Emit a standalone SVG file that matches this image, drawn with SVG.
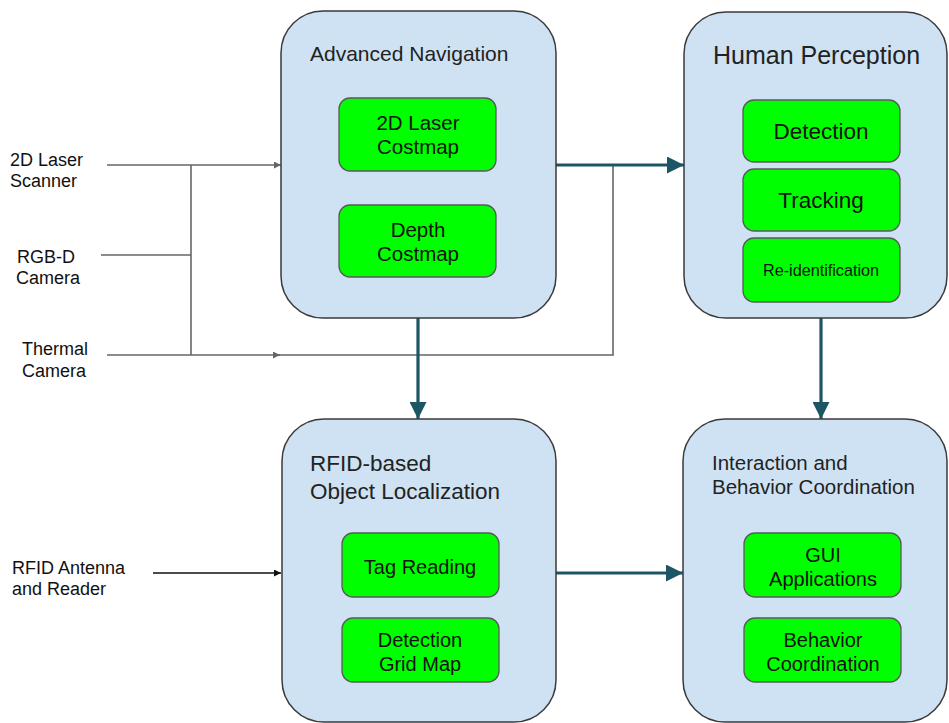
<svg xmlns="http://www.w3.org/2000/svg" width="949" height="723" viewBox="0 0 949 723">
<defs>
<style>
text{font-family:"Liberation Sans",Arial,sans-serif;}
.outer{fill:#cfe2f3;stroke:#3a3a3a;stroke-width:1.5;}
.inner{fill:#00ff00;stroke:#5a5a5a;stroke-width:1.3;}
.title{fill:#222;}
.it{fill:#111;text-anchor:middle;}
.lbl{fill:#111;font-size:18px;}
.gray{stroke:#666;stroke-width:1.6;fill:none;}
.blk{stroke:#111;stroke-width:1.6;fill:none;}
.teal{stroke:#1c5564;stroke-width:3.2;fill:none;}
</style>
<marker id="ah-gray" viewBox="0 0 10 10" refX="10" refY="5" markerWidth="9" markerHeight="7" markerUnits="userSpaceOnUse" orient="auto"><path d="M0,0 L10,5 L0,10 Z" fill="#666"/></marker>
<marker id="ah-blk" viewBox="0 0 10 10" refX="10" refY="5" markerWidth="9" markerHeight="7" markerUnits="userSpaceOnUse" orient="auto"><path d="M0,0 L10,5 L0,10 Z" fill="#111"/></marker>
<marker id="ah-teal" viewBox="0 0 10 10" refX="10" refY="5" markerWidth="22" markerHeight="17" markerUnits="userSpaceOnUse" orient="auto"><path d="M0,0 L10,5 L0,10 Z" fill="#1c5564"/></marker>
</defs>
<rect width="949" height="723" fill="#ffffff"/>

<g id="connectors">
<line class="gray" x1="107" y1="165" x2="281" y2="165" marker-end="url(#ah-gray)"/>
<line class="gray" x1="101" y1="255" x2="191" y2="255"/>
<line class="gray" x1="191" y1="165" x2="191" y2="355"/>
<line class="gray" x1="107" y1="355" x2="280" y2="355" marker-end="url(#ah-gray)"/>
<polyline class="gray" points="278,355 613,355 613,165"/>
<line class="blk" x1="153" y1="573" x2="281" y2="573" marker-end="url(#ah-blk)"/>
<line class="teal" x1="556" y1="165" x2="684" y2="165" marker-end="url(#ah-teal)"/>
<line class="teal" x1="418" y1="318" x2="418" y2="419" marker-end="url(#ah-teal)"/>
<line class="teal" x1="821" y1="318" x2="821" y2="419" marker-end="url(#ah-teal)"/>
<line class="teal" x1="556" y1="573" x2="683" y2="573" marker-end="url(#ah-teal)"/>
</g>

<g id="input-laser"><text class="lbl" x="10" y="166">2D Laser</text><text class="lbl" x="10" y="187">Scanner</text></g>
<g id="input-rgbd"><text class="lbl" x="17" y="263">RGB-D</text><text class="lbl" x="16" y="284">Camera</text></g>
<g id="input-thermal"><text class="lbl" x="22" y="355">Thermal</text><text class="lbl" x="22" y="377">Camera</text></g>
<g id="input-rfid"><text class="lbl" x="12" y="574">RFID Antenna</text><text class="lbl" x="12" y="595">and Reader</text></g>

<g id="advanced-navigation">
<rect class="outer" x="281" y="11" width="275" height="307" rx="42" ry="42"/>
<text class="title" x="310" y="61" style="font-size:21px">Advanced Navigation</text>
<g id="laser-costmap"><rect class="inner" x="339" y="98" width="157" height="73" rx="11"/>
<text class="it" x="418" y="130" style="font-size:20.5px">2D Laser</text><text class="it" x="418" y="154" style="font-size:20.5px">Costmap</text></g>
<g id="depth-costmap"><rect class="inner" x="339" y="205" width="157" height="72" rx="11"/>
<text class="it" x="418" y="237" style="font-size:20.5px">Depth</text><text class="it" x="418" y="261" style="font-size:20.5px">Costmap</text></g>
</g>

<g id="human-perception">
<rect class="outer" x="684" y="12" width="263" height="306" rx="42" ry="42"/>
<text class="title" x="713" y="64" style="font-size:25px">Human Perception</text>
<g id="detection"><rect class="inner" x="743" y="100" width="157" height="62" rx="11"/>
<text class="it" x="821" y="139" style="font-size:22.5px">Detection</text></g>
<g id="tracking"><rect class="inner" x="743" y="169" width="157" height="62" rx="11"/>
<text class="it" x="821" y="208" style="font-size:22.5px">Tracking</text></g>
<g id="reidentification"><rect class="inner" x="743" y="238" width="157" height="64" rx="11"/>
<text class="it" x="821" y="276" style="font-size:16px" textLength="116" lengthAdjust="spacingAndGlyphs">Re-identification</text></g>
</g>

<g id="rfid-localization">
<rect class="outer" x="282" y="419" width="274" height="303" rx="42" ry="42"/>
<text class="title" x="310" y="471" style="font-size:22.5px">RFID-based</text>
<text class="title" x="310" y="499" style="font-size:22.5px">Object Localization</text>
<g id="tag-reading"><rect class="inner" x="342" y="533" width="157" height="64" rx="11"/>
<text class="it" x="420" y="574" style="font-size:20px">Tag Reading</text></g>
<g id="detection-grid-map"><rect class="inner" x="342" y="618" width="157" height="64" rx="11"/>
<text class="it" x="420" y="647" style="font-size:20px">Detection</text><text class="it" x="420" y="671" style="font-size:20px">Grid Map</text></g>
</g>

<g id="interaction-behavior">
<rect class="outer" x="683" y="419" width="264" height="303" rx="42" ry="42"/>
<text class="title" x="712" y="470" style="font-size:20.5px">Interaction and</text>
<text class="title" x="712" y="494" style="font-size:20.5px">Behavior Coordination</text>
<g id="gui-applications"><rect class="inner" x="744" y="533" width="157" height="64" rx="11"/>
<text class="it" x="823" y="562" style="font-size:20px">GUI</text><text class="it" x="823" y="586" style="font-size:20px">Applications</text></g>
<g id="behavior-coordination"><rect class="inner" x="744" y="618" width="157" height="64" rx="11"/>
<text class="it" x="823" y="647" style="font-size:20px">Behavior</text><text class="it" x="823" y="671" style="font-size:20px">Coordination</text></g>
</g>
</svg>
